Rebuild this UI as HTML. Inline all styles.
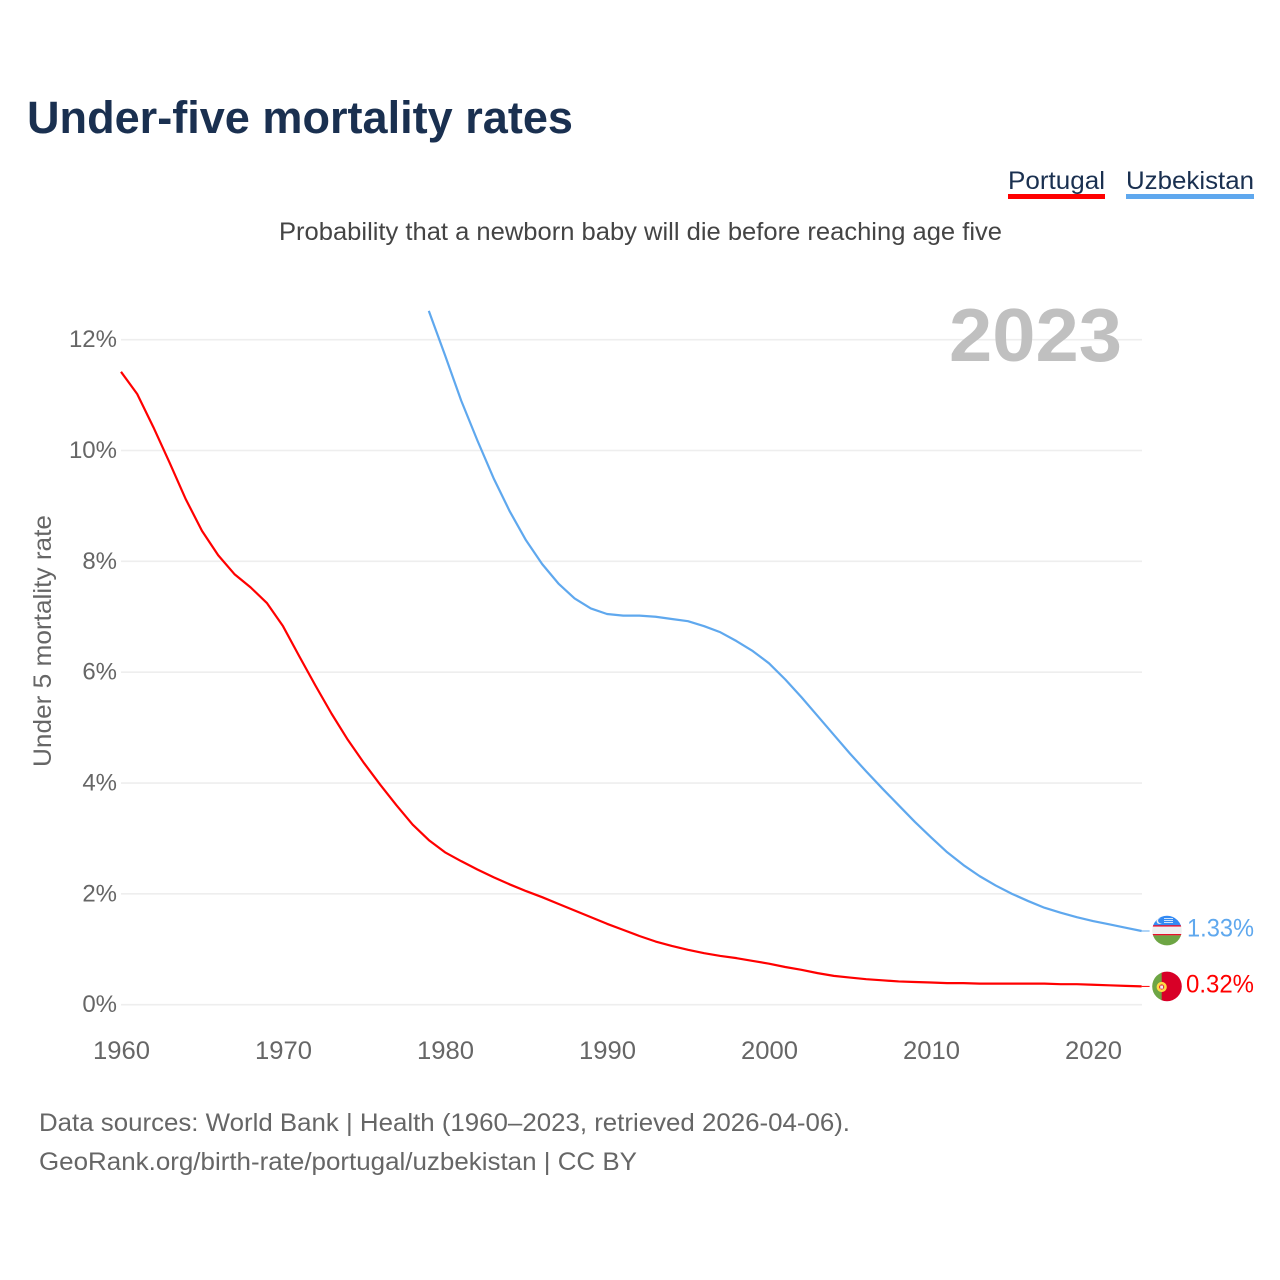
<!DOCTYPE html>
<html lang="en">
<head>
<meta charset="utf-8">
<title>Under-five mortality rates</title>
<style>
html,body{margin:0;padding:0;background:#fff;width:1280px;height:1280px;overflow:hidden}
svg{display:block}
text{font-family:"Liberation Sans",sans-serif}
</style>
</head>
<body>
<svg id="chart" xmlns="http://www.w3.org/2000/svg" width="1280" height="1280" viewBox="0 0 1280 1280">
  <text x="27" y="133" font-size="45" font-weight="700" fill="#1a3050" textLength="546" lengthAdjust="spacingAndGlyphs">Under-five mortality rates</text>
  <text x="1008" y="189" font-size="25" fill="#1a3050" textLength="97" lengthAdjust="spacingAndGlyphs">Portugal</text>
  <rect x="1008" y="194" width="97" height="5" fill="#ff0000"/>
  <text x="1126" y="189" font-size="25" fill="#1a3050" textLength="128" lengthAdjust="spacingAndGlyphs">Uzbekistan</text>
  <rect x="1126" y="194" width="128" height="5" fill="#5fa8ee"/>
  <text x="279" y="240" font-size="25" fill="#444444" textLength="723" lengthAdjust="spacingAndGlyphs">Probability that a newborn baby will die before reaching age five</text>
  <g id="grid"></g>
  <text x="949" y="361" font-size="75" font-weight="700" fill="#c0c0c0" textLength="173" lengthAdjust="spacingAndGlyphs">2023</text>
  <g id="yticks"></g>
  <g id="xticks"></g>
  <text transform="translate(51,767) rotate(-90)" x="0" y="0" font-size="25" fill="#666666" textLength="252" lengthAdjust="spacingAndGlyphs">Under 5 mortality rate</text>
  <g id="series"></g>

  <defs>
    <clipPath id="clip-uz"><circle cx="1167" cy="930.6" r="14.8"/></clipPath>
    <clipPath id="clip-pt"><circle cx="1167" cy="986.4" r="14.8"/></clipPath>
  </defs>
  <g clip-path="url(#clip-uz)">
    <rect x="1150" y="915" width="34" height="11" fill="#338af3"/>
    <rect x="1150" y="925.2" width="34" height="1.5" fill="#e8112d"/>
    <rect x="1150" y="926.7" width="34" height="7.3" fill="#f0f0f0"/>
    <rect x="1150" y="934" width="34" height="1.4" fill="#e8112d"/>
    <rect x="1150" y="935.4" width="34" height="12" fill="#6da544"/>
    <circle cx="1159.5" cy="921" r="3" fill="#f0f0f0"/>
    <circle cx="1160.7" cy="920.6" r="2.6" fill="#338af3"/>
    <rect x="1164" y="918" width="9" height="1" fill="#cfe3fb"/>
    <rect x="1164" y="920" width="9" height="1" fill="#cfe3fb"/>
    <rect x="1164" y="922" width="9" height="1" fill="#cfe3fb"/>
  </g>
  <g clip-path="url(#clip-pt)">
    <rect x="1150" y="971" width="12" height="32" fill="#6da544"/>
    <rect x="1161.7" y="971" width="22" height="32" fill="#d80027"/>
    <circle cx="1161.7" cy="987" r="3.8" fill="#d80027" stroke="#ffda44" stroke-width="2.6"/>
    <rect x="1160.2" y="985.5" width="3" height="3.2" fill="#f0f0f0"/>
  </g>
  <text x="1187" y="936.5" font-size="25" fill="#5fa8ee" textLength="67" lengthAdjust="spacingAndGlyphs">1.33%</text>
  <text x="1186" y="992.5" font-size="25" fill="#ff0000" textLength="68" lengthAdjust="spacingAndGlyphs">0.32%</text>

  <text x="39" y="1131" font-size="25" fill="#666666" textLength="811" lengthAdjust="spacingAndGlyphs">Data sources: World Bank | Health (1960–2023, retrieved 2026-04-06).</text>
  <text x="39" y="1170" font-size="25" fill="#666666" textLength="598" lengthAdjust="spacingAndGlyphs">GeoRank.org/birth-rate/portugal/uzbekistan | CC BY</text>
</svg>
<script>
const yTickValues = [0, 2, 4, 6, 8, 10, 12];
const xTickYears = [1960, 1970, 1980, 1990, 2000, 2010, 2020];
const portugalStartYear = 1960;
const portugalValues = [
  11.42, 11.02, 10.42, 9.78, 9.12, 8.55, 8.11, 7.77, 7.53, 7.25,
  6.83, 6.29, 5.76, 5.25, 4.78, 4.36, 3.97, 3.60, 3.25, 2.97,
  2.75, 2.59, 2.44, 2.30, 2.17, 2.05, 1.94, 1.82, 1.70, 1.58,
  1.46, 1.35, 1.24, 1.14, 1.06, 0.99, 0.93, 0.88, 0.84, 0.79,
  0.74, 0.68, 0.63, 0.57, 0.52, 0.49, 0.46, 0.44, 0.42, 0.41,
  0.40, 0.39, 0.39, 0.38, 0.38, 0.38, 0.38, 0.38, 0.37, 0.37,
  0.36, 0.35, 0.34, 0.33
];
const uzbekistanStartYear = 1979;
const uzbekistanValues = [
  12.52, 11.72, 10.90, 10.18, 9.50, 8.90, 8.38, 7.95, 7.60, 7.33,
  7.15, 7.05, 7.02, 7.02, 7.00, 6.96, 6.92, 6.83, 6.72, 6.56,
  6.38, 6.16, 5.87, 5.55, 5.21, 4.87, 4.53, 4.21, 3.90, 3.60,
  3.30, 3.02, 2.75, 2.52, 2.32, 2.15, 2.00, 1.87, 1.75, 1.66,
  1.58, 1.51, 1.45, 1.39, 1.33
];

const SVG_NS = 'http://www.w3.org/2000/svg';
const xScale = function (year) { return 121 + (year - 1960) * 16.2; };
const yScale = function (pct) { return 1004.7 - pct * 55.42; };

function make(tag, attrs, parent, content) {
  const el = document.createElementNS(SVG_NS, tag);
  Object.keys(attrs).forEach(function (k) { el.setAttribute(k, attrs[k]); });
  if (content !== undefined) el.textContent = content;
  parent.appendChild(el);
  return el;
}

const gridGroup = document.getElementById('grid');
const yTickGroup = document.getElementById('yticks');
const xTickGroup = document.getElementById('xticks');
const seriesGroup = document.getElementById('series');

yTickValues.forEach(function (v) {
  const line = make('line', { x1: 121, x2: 1142, y1: yScale(v), y2: yScale(v), stroke: '#eeeeee', 'stroke-width': 1.6 }, gridGroup);
  
  
  const label = make('text', { x: 117, y: yScale(v) + 7.5, 'text-anchor': 'end', 'font-size': 24, fill: '#666666' }, yTickGroup, v + '%');
  
  
});

xTickYears.forEach(function (y) {
  const label = make('text', { x: xScale(y) - 28, y: 1059, 'font-size': 25, fill: '#666666', textLength: 57, lengthAdjust: 'spacingAndGlyphs' }, xTickGroup, String(y));
  
  
});

function linePoints(values, startYear) {
  return values.map(function (v, i) {
    return xScale(startYear + i).toFixed(2) + ',' + yScale(v).toFixed(2);
  }).join(' ');
}

function lastPoint(values, startYear) {
  const i = values.length - 1;
  return { x: xScale(startYear + i), y: yScale(values[i]) };
}

const portugalLine = make('polyline', { points: linePoints(portugalValues, portugalStartYear), fill: 'none', stroke: '#ff0000', 'stroke-width': 2.2, 'stroke-linejoin': 'round' }, seriesGroup);



const uzbekistanLine = make('polyline', { points: linePoints(uzbekistanValues, uzbekistanStartYear), fill: 'none', stroke: '#5fa8ee', 'stroke-width': 2.2, 'stroke-linejoin': 'round' }, seriesGroup);



const portugalEnd = lastPoint(portugalValues, portugalStartYear);
const portugalLeader = make('line', { x1: portugalEnd.x, x2: portugalEnd.x + 8, y1: portugalEnd.y, y2: portugalEnd.y, stroke: '#ff0000', 'stroke-width': 1 }, seriesGroup);



const uzbekistanEnd = lastPoint(uzbekistanValues, uzbekistanStartYear);
const uzbekistanLeader = make('line', { x1: uzbekistanEnd.x, x2: uzbekistanEnd.x + 8, y1: uzbekistanEnd.y, y2: uzbekistanEnd.y, stroke: '#5fa8ee', 'stroke-width': 1 }, seriesGroup);


</script>
</body>
</html>
